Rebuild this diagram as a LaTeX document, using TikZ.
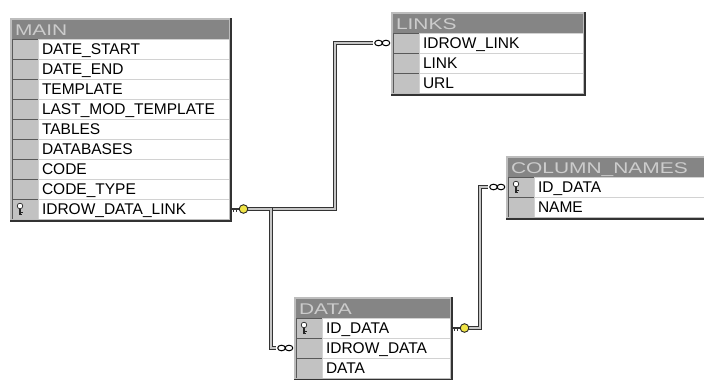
\documentclass[tikz,border=0pt]{standalone}
\usepackage{fontspec}
\setmainfont{Liberation Sans}
\newfontfamily\titlefont[FakeStretch=1.35]{Liberation Sans}
\usetikzlibrary{positioning,fit}

\definecolor{barcol}{gray}{0.52}
\definecolor{bartext}{gray}{0.80}
\definecolor{keycol}{gray}{0.76}
\definecolor{rimcol}{gray}{0.74}
\definecolor{keyyellow}{RGB}{240,228,70}

\tikzstyle{tabtitle} = [rectangle, anchor=north west, fill=barcol, text=bartext, minimum height=19pt, text height=11pt, text depth=0pt, inner xsep=3pt, inner ysep=0pt, outer sep=0pt, align=left, font=\titlefont\fontsize{15.5}{17}\selectfont]
\tikzstyle{keycell} = [rectangle, anchor=north west, fill=keycol, draw=black!65, line width=0.6pt, minimum width=26pt, minimum height=20pt, inner sep=0pt, outer sep=0pt]
\tikzstyle{field} = [rectangle, fill=white, draw=gray!35, line width=0.6pt, minimum height=20pt, text height=11pt, text depth=0pt, inner xsep=4pt, inner ysep=0pt, outer sep=0pt, align=left, font=\fontsize{15.5}{17}\selectfont]
\tikzstyle{tabrim} = [rectangle, draw=rimcol, line width=2pt, inner sep=1pt]
\tikzstyle{tabshadow} = [draw=black!80, line width=1.6pt]
\tikzstyle{link} = [draw=black!80, double=gray!45, double distance=1.8pt, line width=1pt]

\tikzset{
  keyend/.pic={
    \draw [black!80, line width=1.2pt] (0,0) -- (9,0);
    \draw [black!80, line width=0.7pt] (2.5,0) -- (2.5,2.5) (5.5,0) -- (5.5,2.5);
    \filldraw [fill=keyyellow, draw=black!85, line width=0.9pt] (12.5,0) circle (4.3pt);
  },
  manyend/.pic={
    \filldraw [fill=white, draw=black, line width=1pt] (-5,0) ellipse (3.8pt and 2.8pt) (-12.5,0) ellipse (3.8pt and 2.8pt);
  },
  pkey/.pic={
    \filldraw [fill=white, draw=black!85, line width=0.7pt] (0,-3) circle (2.8pt);
    \draw [black!85, line width=1.2pt] (0,0) -- (0,6);
    \draw [black!85, line width=0.7pt] (0,3) -- (2.5,3) (0,5.5) -- (2,5.5);
  }
}

\begin{document}
\begin{tikzpicture}[x=1pt, y=-1pt]
\path [use as bounding box, fill=white] (0,0) rectangle (704,380);

\node (main) [tabtitle, text width=211pt] at (12,20) {MAIN};
\foreach \txt [count=\i] in {DATE\_START, DATE\_END, TEMPLATE, LAST\_MOD\_TEMPLATE, TABLES, DATABASES, CODE, CODE\_TYPE, IDROW\_DATA\_LINK} {
  \node (main-k\i) [keycell] at (12, 19+20*\i) {};
  \node (main-\i) [field, right=0pt of main-k\i, text width=183pt] {\txt};
}
\node (mainbox) [tabrim, fit=(main)(main-k9)(main-9)] {};
\draw [tabshadow] (mainbox.north east) |- (mainbox.south west);

\node (links) [tabtitle, text width=184pt] at (393,14) {LINKS};
\foreach \txt [count=\i] in {IDROW\_LINK, LINK, URL} {
  \node (links-k\i) [keycell] at (393, 13+20*\i) {};
  \node (links-\i) [field, right=0pt of links-k\i, text width=156pt] {\txt};
}
\node (linksbox) [tabrim, fit=(links)(links-k3)(links-3)] {};
\draw [tabshadow] (linksbox.north east) |- (linksbox.south west);

\node (cols) [tabtitle, text width=204pt] at (508,158) {COLUMN\_NAMES};
\foreach \txt [count=\i] in {ID\_DATA, NAME} {
  \node (cols-k\i) [keycell] at (508, 157+20*\i) {};
  \node (cols-\i) [field, right=0pt of cols-k\i, text width=176pt] {\txt};
}
\node (colsbox) [tabrim, fit=(cols)(cols-k2)(cols-2)] {};
\draw [tabshadow] (colsbox.north east) |- (colsbox.south west);

\node (data) [tabtitle, text width=148pt] at (296,299) {DATA};
\foreach \txt [count=\i] in {ID\_DATA, IDROW\_DATA, DATA} {
  \node (data-k\i) [keycell] at (296, 298+20*\i) {};
  \node (data-\i) [field, right=0pt of data-k\i, text width=120pt] {\txt};
}
\node (databox) [tabrim, fit=(data)(data-k3)(data-3)] {};
\draw [tabshadow] (databox.north east) |- (databox.south west);

\pic at ([xshift=8pt]main-k9.west) {pkey};
\pic at ([xshift=8pt]cols-k1.west) {pkey};
\pic at ([xshift=8pt]data-k1.west) {pkey};

\draw [link] ([xshift=18pt]main-9.east) -- ++(88,0) |- ([xshift=-20pt]links-k1.west);
\draw [link] ([xshift=18pt]main-9.east) -- ++(24,0) |- ([xshift=-20pt]data-k2.west);
\draw [link] ([xshift=18pt]data-1.east) -- ++(12,0) |- ([xshift=-20pt]cols-k1.west);

\pic at ([xshift=2pt]main-9.east) {keyend};
\pic at ([xshift=2pt]data-1.east) {keyend};
\pic at ([xshift=-2pt]links-k1.west) {manyend};
\pic at ([xshift=-2pt]data-k2.west) {manyend};
\pic at ([xshift=-2pt]cols-k1.west) {manyend};
\end{tikzpicture}
\end{document}
